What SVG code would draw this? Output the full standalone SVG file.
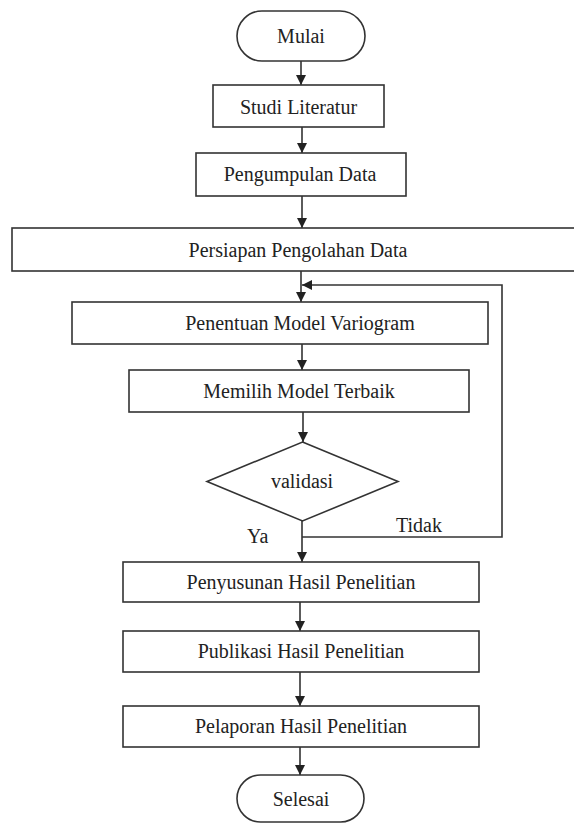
<svg xmlns="http://www.w3.org/2000/svg" width="574" height="823" viewBox="0 0 574 823">
<style>
.box{fill:#fff;stroke:#333;stroke-width:1.6}
.t{font-family:"Liberation Serif","Times New Roman",serif;font-size:20px;fill:#222;text-anchor:middle}
.lbl{font-family:"Liberation Serif","Times New Roman",serif;font-size:20px;fill:#222}
.ln{fill:none;stroke:#333;stroke-width:1.6}
</style>
<defs>
<marker id="ah" markerUnits="userSpaceOnUse" markerWidth="10" markerHeight="12" viewBox="0 0 10 12" refX="10" refY="6" orient="auto">
<path d="M0,1 L10,6 L0,11 Z" fill="#222"/>
</marker>
</defs>
<rect width="574" height="823" fill="#fff"/>
<g id="connectors">
<line class="ln" x1="301" y1="61" x2="301" y2="85" marker-end="url(#ah)"/>
<line class="ln" x1="302" y1="127" x2="302" y2="153" marker-end="url(#ah)"/>
<line class="ln" x1="302" y1="196" x2="302" y2="228" marker-end="url(#ah)"/>
<line class="ln" x1="301" y1="271" x2="301" y2="302" marker-end="url(#ah)"/>
<polyline class="ln" points="302,537 502,537 502,285 302,285" marker-end="url(#ah)"/>
<line class="ln" x1="302" y1="344" x2="302" y2="370" marker-end="url(#ah)"/>
<line class="ln" x1="303" y1="412" x2="303" y2="442" marker-end="url(#ah)"/>
<line class="ln" x1="302" y1="521" x2="302" y2="562" marker-end="url(#ah)"/>
<line class="ln" x1="300" y1="602" x2="300" y2="631" marker-end="url(#ah)"/>
<line class="ln" x1="300" y1="672" x2="300" y2="706" marker-end="url(#ah)"/>
<line class="ln" x1="300" y1="747" x2="300" y2="775" marker-end="url(#ah)"/>
<text class="lbl" x="247" y="543">Ya</text>
<text class="lbl" x="396" y="532">Tidak</text>
</g>
<g id="mulai"><rect class="box" x="237" y="11" width="128" height="50" rx="25"/><text class="t" x="301" y="43">Mulai</text></g>
<g id="studi"><rect class="box" x="213" y="85" width="171" height="42"/><text class="t" x="298.5" y="114">Studi Literatur</text></g>
<g id="pengumpulan"><rect class="box" x="196" y="153" width="210" height="43"/><text class="t" x="300" y="181">Pengumpulan Data</text></g>
<g id="persiapan"><rect class="box" x="12" y="228" width="580" height="43"/><text class="t" x="298" y="257">Persiapan Pengolahan Data</text></g>
<g id="penentuan"><rect class="box" x="72" y="302" width="416" height="42"/><text class="t" x="300" y="330">Penentuan Model Variogram</text></g>
<g id="memilih"><rect class="box" x="129" y="370" width="340" height="42"/><text class="t" x="299" y="398">Memilih Model Terbaik</text></g>
<g id="validasi"><polygon class="box" points="302.5,442 398,481.5 302.5,521 207,481.5"/><text class="t" x="302" y="488">validasi</text></g>
<g id="penyusunan"><rect class="box" x="123" y="562" width="356" height="40"/><text class="t" x="301" y="589">Penyusunan Hasil Penelitian</text></g>
<g id="publikasi"><rect class="box" x="123" y="631" width="356" height="41"/><text class="t" x="301" y="658">Publikasi Hasil Penelitian</text></g>
<g id="pelaporan"><rect class="box" x="123" y="706" width="356" height="41"/><text class="t" x="301" y="733">Pelaporan Hasil Penelitian</text></g>
<g id="selesai"><rect class="box" x="237" y="775" width="127" height="47" rx="23.5"/><text class="t" x="301" y="806">Selesai</text></g>
</svg>
